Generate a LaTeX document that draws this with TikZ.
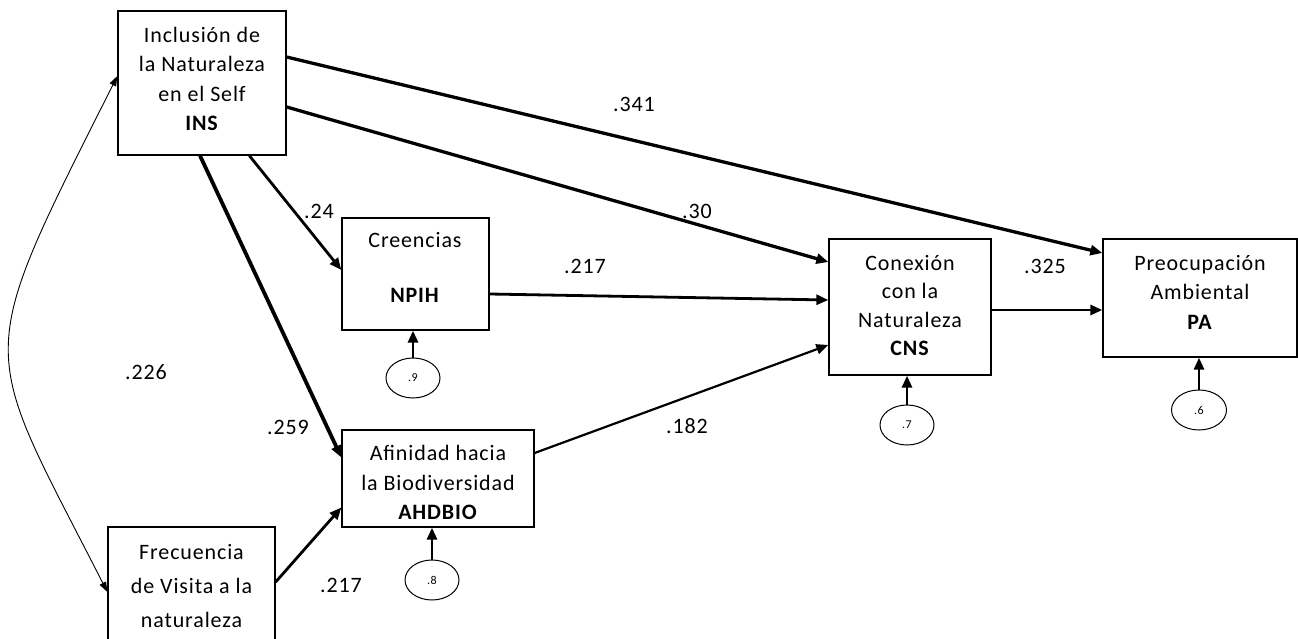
\documentclass[tikz,border=0pt]{standalone}
\usepackage{fontspec}
\setmainfont{Carlito}[LetterSpace=4]
\usetikzlibrary{arrows.meta,shapes.geometric}
\begin{document}
\begin{tikzpicture}[x=1pt,y=-1pt,
  box/.style={draw,line width=1.3pt,inner sep=0,anchor=center},
  txt/.style={align=center,inner sep=0,font=\fontsize{22}{29.5}\selectfont},
  num/.style={inner sep=0,font=\fontsize{22}{24}\selectfont},
  errterm/.style={draw,ellipse,line width=1pt,inner sep=0,minimum width=54pt,
    minimum height=40pt,font=\fontsize{12}{14}\selectfont},
  link/.style={line width=2.8pt,-{Triangle[length=12pt,width=10pt]}},
  heavy/.style={link,line width=3.3pt},
  light/.style={link,line width=2.2pt},
  cov/.style={line width=0.9pt,
    {Triangle[length=10pt,width=7pt]}-{Triangle[length=10pt,width=7pt]}}
]
\useasboundingbox (0,0) rectangle (1298,639);
\fill[white] (0,0) rectangle (1298,639);
\clip (0,0) rectangle (1298,639);

% boxes of the observed variables
\node[box,minimum width=168pt,minimum height=144pt] (ins)  at (202,83)    {};
\node[box,minimum width=147pt,minimum height=112pt] (npih) at (415.5,274) {};
\node[box,minimum width=192pt,minimum height=97pt]  (ahd)  at (438,478.5) {};
\node[box,minimum width=167pt,minimum height=126pt] (freq) at (191.5,590) {};
\node[box,minimum width=162pt,minimum height=136pt] (cns)  at (910,307)   {};
\node[box,minimum width=194pt,minimum height=118pt] (pa)   at (1200,298)  {};

% box captions
\node[txt] (ins-t)  at (202,79)    {Inclusión de\\la Naturaleza\\en el Self\\\textbf{INS}};
\node[txt] (npih-t) at (415,267.5) {Creencias\\[26pt]\textbf{NPIH}};
\node[txt] (ahd-t)  at (438,482.5) {Afinidad hacia\\la Biodiversidad\\\textbf{AHDBIO}};
\node[txt,font=\fontsize{22}{34}\selectfont] (freq-t) at (191.5,586) {Frecuencia\\de Visita a la\\naturaleza};
\node[txt,font=\fontsize{22}{28.5}\selectfont] (cns-t) at (910,305.5) {Conexión\\con la\\Naturaleza\\\textbf{CNS}};
\node[txt] (pa-t)   at (1200,292)  {Preocupación\\Ambiental\\\textbf{PA}};

% error terms
\node[errterm] (e9) at (413,378)  {.9};
\node[errterm] (e8) at (432,580)  {.8};
\node[errterm] (e7) at (907,425)  {.7};
\node[errterm,minimum width=55pt] (e6) at (1199,410) {.6};

\foreach \e/\b in {e9/npih,e8/ahd,e7/cns,e6/pa}
  \draw[link] (\e.north) -- (\e.north |- \b.south);

% structural paths
\draw[heavy] ([yshift=26pt]ins.east) -- ([yshift=45pt]pa.west);
\draw[heavy] ([yshift=-24pt]ins.east) -- ([yshift=45pt]cns.west);
\draw[link]  ([xshift=132pt]ins.south west) -- ([yshift=4pt]npih.west);
\draw[heavy,line width=3.8pt] ([xshift=-2pt]ins.south) -- ([yshift=21pt]ahd.west);
\draw[link]  ([yshift=-20pt]npih.east) -- ([yshift=7pt]cns.west);
\draw[light] ([yshift=25.5pt]ahd.east) -- ([yshift=-38pt]cns.west);
\draw[link]  ([yshift=-3pt]cns.east) -- ([yshift=-12pt]pa.west);
\draw[link]  ([yshift=8pt]freq.east) -- ([yshift=-29pt]ahd.west);

% covariance between the exogenous variables
\draw[cov] ([yshift=7pt]ins.west) .. controls (-29,367) and (-21,340) .. ([yshift=-2pt]freq.west);

% coefficients
\node[num] (c341) at (634,104)  {.341};
\node[num] (c30)  at (697,211)  {.30};
\node[num] (c24)  at (319,211)  {.24};
\node[num] (c217a) at (585,266) {.217};
\node[num] (c325) at (1045,266) {.325};
\node[num] (c226) at (146,372)  {.226};
\node[num] (c259) at (288,427)  {.259};
\node[num] (c182) at (687,426)  {.182};
\node[num] (c217b) at (341,585) {.217};
\end{tikzpicture}
\end{document}
